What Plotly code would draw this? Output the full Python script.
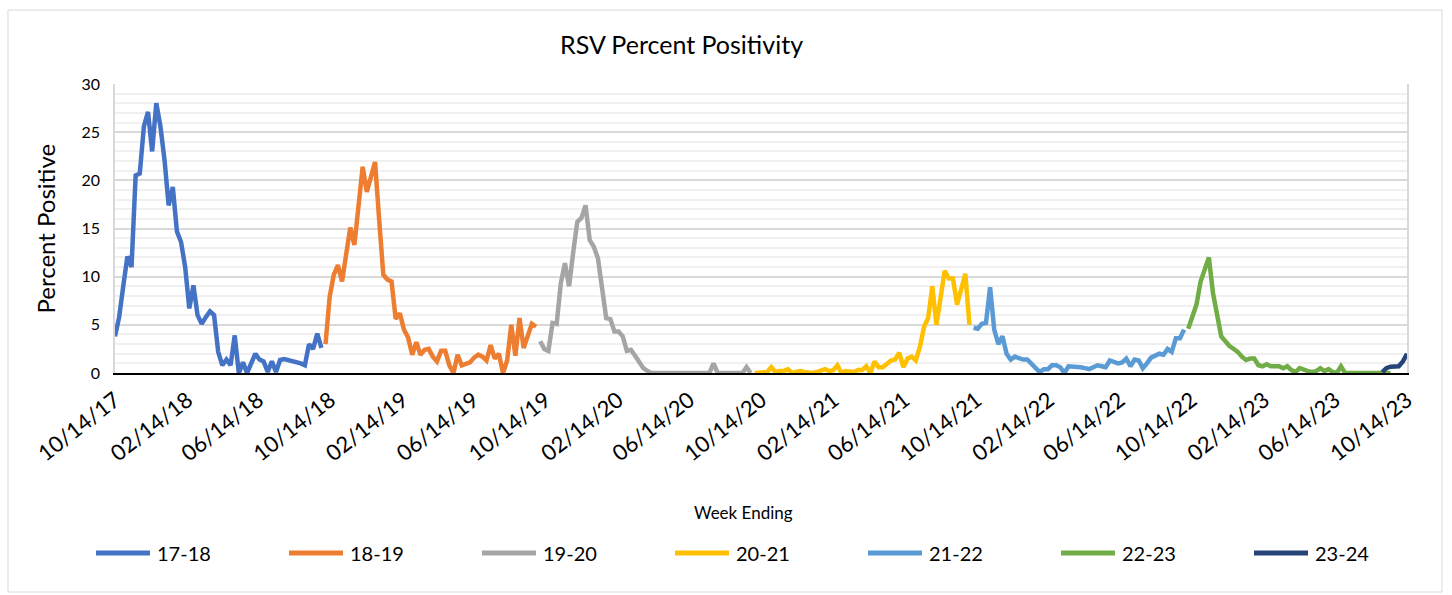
import pandas as pd
import plotly.graph_objects as go

# ---- data (weekly percent positive, week ending Saturday) ----
season_names = ["17-18", "18-19", "19-20", "20-21", "21-22", "22-23", "23-24"]
season_start = ["2017-10-14", "2018-10-06", "2019-10-05", "2020-10-03",
                "2021-10-09", "2022-10-08", "2023-09-02"]
season_colors = ["#4472C4", "#ED7D31", "#A5A5A5", "#FFC000", "#5B9BD5", "#70AD47", "#264478"]

s1718 = [3.8, 5.8, 9.0, 12.1, 11.0, 20.5, 20.7, 25.6, 27.1, 23.0, 28.0, 25.6, 22.1, 17.4, 19.3,
         14.7, 13.6, 11.0, 6.7, 9.1, 6.0, 5.1, 5.8, 6.4, 6.0, 2.2, 0.8, 1.4, 0.8, 3.9, 0.0, 1.1,
         0.0, 1.0, 2.0, 1.4, 1.2, 0.1, 1.2, 0.1, 1.35, 1.45, 1.35, 1.3, 1.2, 1.0, 0.8, 3.0, 2.5,
         4.1, 2.6]
s1819 = [3.0, 7.9, 10.2, 11.2, 9.5, 12.4, 15.1, 13.3, 17.3, 21.4, 18.8, 20.4, 21.9, 15.9, 10.2,
         9.7, 9.5, 5.6, 6.2, 4.5, 3.7, 1.9, 3.2, 1.9, 2.4, 2.5, 1.7, 1.2, 2.3, 2.3, 0.8, 0.0, 1.9,
         0.8, 0.9, 1.1, 1.6, 1.9, 1.7, 1.3, 2.9, 1.5, 2.0, 0.0, 1.3, 5.0, 1.8, 5.7, 2.6, 4.0, 5.1,
         4.8]
s1920 = [3.3, 2.5, 2.3, 5.2, 5.1, 9.3, 11.4, 9.0, 12.5, 15.7, 16.1, 17.4, 13.8, 13.1, 11.9, 8.6,
         5.7, 5.6, 4.3, 4.3, 3.8, 2.3, 2.4, 1.8, 1.1, 0.5, 0.2,
         0, 0, 0, 0, 0, 0, 0, 0, 0, 0, 0, 0, 0, 0, 0,
         1.0, 0, 0, 0, 0, 0, 0, 0, 0.6, 0]
s2021 = [0, 0, 0, 0.1, 0.6, 0.1, 0.2, 0.2, 0.4, 0, 0.1, 0.2, 0.1, 0, 0, 0.1, 0.3, 0.4, 0.2, 0.3,
         0.8, 0, 0.2, 0.2, 0.1, 0.3, 0.3, 0.7, 0, 1.2, 0.6, 0.6, 0.9, 1.3, 1.4, 2.1, 0.6, 1.5, 1.7,
         1.3, 2.7, 4.8, 5.7, 9.0, 5.0, 7.8, 10.6, 9.8, 9.8, 7.1, 8.7, 10.3, 5.0]
s2122 = [4.7, 4.6, 5.1, 5.2, 8.9, 4.5, 3.0, 3.8, 2.0, 1.4, 1.7, 1.5, 1.4, 1.4, 1.0, 0.6, 0.1, 0.4,
         0.4, 0.8, 0.8, 0.6, 0.0, 0.7, 0.7, 0.7, 0.6, 0.5, 0.4, 0.6, 0.8, 0.7, 0.6, 1.3, 1.1, 1.0,
         1.1, 1.5, 0.7, 1.4, 1.3, 0.5, 1.0, 1.6, 1.8, 2.0, 1.9, 2.5, 2.2, 3.6, 3.6, 4.5]
s2223 = [4.6, 5.8, 7.1, 9.5, 10.9, 12.0, 8.3, 5.8, 3.8, 3.3, 2.8, 2.5, 2.2, 1.7, 1.35, 1.5, 1.5,
         0.8, 0.7, 0.9, 0.7, 0.7, 0.7, 0.5, 0.7, 0.3, 0.1, 0.5, 0.3, 0.2, 0.1, 0.2, 0.5, 0.2, 0.4,
         0.1, 0.0, 0.7, 0.0, 0, 0, 0, 0, 0, 0, 0, 0, 0, 0, 0]
s2324 = [0.1, 0.5, 0.65, 0.7, 0.7, 1.2, 2.0]
season_values = [s1718, s1819, s1920, s2021, s2122, s2223, s2324]

tick_labels = ["10/14/17", "02/14/18", "06/14/18", "10/14/18", "02/14/19", "06/14/19",
               "10/14/19", "02/14/20", "06/14/20", "10/14/20", "02/14/21", "06/14/21",
               "10/14/21", "02/14/22", "06/14/22", "10/14/22", "02/14/23", "06/14/23",
               "10/14/23"]

FONT = "Lato"
W, H = 1452, 595
L, R, T, B = 115, 45, 84, 222
pw, ph = W - L - R, H - T - B

def px(x):
    return (x - L) / pw

def py(y):
    return (H - B - y) / ph

fig = go.Figure()
for name, start, color, vals in zip(season_names, season_start, season_colors, season_values):
    dates = pd.date_range(start=start, periods=len(vals), freq="7D")
    fig.add_trace(go.Scatter(x=dates, y=vals, mode="lines", name=name, showlegend=False,
                             line=dict(color=color, width=4.5)))

tickvals = pd.to_datetime(tick_labels, format="%m/%d/%y")

annotations = [
    dict(text="RSV Percent Positivity", x=px(681), y=py(44), xref="paper", yref="paper",
         showarrow=False, xanchor="center", yanchor="middle",
         font=dict(size=25, family=FONT, color="#000")),
    dict(text="Percent Positive", x=px(45), y=0.5, xref="paper", yref="paper",
         showarrow=False, textangle=-90, xanchor="center", yanchor="middle",
         font=dict(size=24, family=FONT, color="#000")),
    dict(text="Week Ending", x=px(743), y=py(512), xref="paper", yref="paper",
         showarrow=False, xanchor="center", yanchor="middle",
         font=dict(size=17, family=FONT, color="#000")),
]
shapes = [
    dict(type="rect", xref="paper", yref="paper", x0=px(8), x1=px(1442), y0=py(592),
         y1=py(10), line=dict(color="#D9D9D9", width=1), layer="below"),
]
# legend drawn as line samples + labels
leg_y = 553
for k, (name, color) in enumerate(zip(season_names, season_colors)):
    x0 = 96 + 193 * k
    shapes.append(dict(type="line", xref="paper", yref="paper", x0=px(x0), x1=px(x0 + 54),
                       y0=py(leg_y), y1=py(leg_y), line=dict(color=color, width=5)))
    annotations.append(dict(text=name, x=px(x0 + 59), y=py(leg_y), xref="paper", yref="paper",
                            showarrow=False, xanchor="left", yanchor="middle",
                            font=dict(size=20, family=FONT, color="#000")))

fig.update_layout(
    width=W, height=H,
    margin=dict(l=L, r=R, t=T, b=B),
    paper_bgcolor="white", plot_bgcolor="white",
    font=dict(family=FONT, color="#000000"),
    showlegend=False,
    xaxis=dict(type="date", range=[tickvals[0], tickvals[-1]],
               tickmode="array", tickvals=tickvals, ticktext=tick_labels,
               tickangle=-38, tickfont=dict(size=22, family=FONT, color="#000"),
               showgrid=False, showline=True, linecolor="#000000", linewidth=1.5,
               zeroline=False, ticks="", ticklabelstandoff=4),
    yaxis=dict(range=[0, 30], dtick=5, tick0=0,
               tickfont=dict(size=16, family=FONT, color="#000"),
               showgrid=True, gridcolor="#D9D9D9", gridwidth=1.5,
               minor=dict(dtick=1, showgrid=True, gridcolor="#F0F0F0", gridwidth=1.5),
               showline=True, linecolor="#D9D9D9", linewidth=1.5, mirror=True,
               zeroline=False, ticks="", ticklabelstandoff=10),
    annotations=annotations,
    shapes=shapes,
)

fig.write_html("out.html", config={"displayModeBar": False},
               post_script="document.body.style.margin='0';")
